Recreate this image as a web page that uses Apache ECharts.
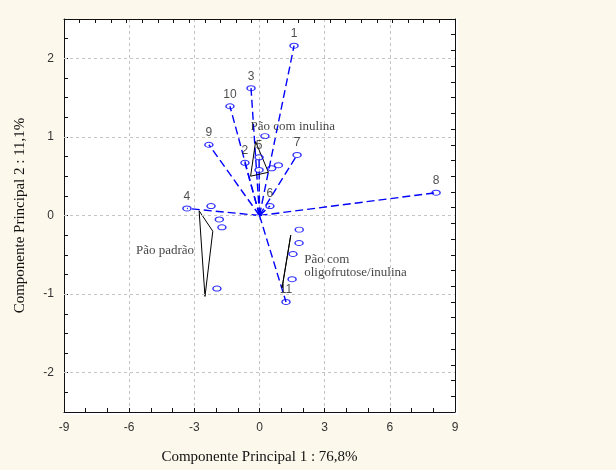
<!DOCTYPE html>
<html><head><meta charset="utf-8">
<script src="https://cdn.jsdelivr.net/npm/echarts@6/dist/echarts.min.js"></script>
<style>html,body{margin:0;padding:0;background:#fdf8ec}#c{width:616px;height:470px}</style>
</head><body><div id="c"></div><script>
// Variable loadings (vector end points) and their labels
const varLabels = ['1','2','3','4','5','6','7','8','9','10','11'];
const varX = [1.59, -0.67, -0.39, -3.34, -0.02, 0.48, 1.73, 8.13, -2.33, -1.36, 1.22];
const varY = [2.16, 0.67, 1.62, 0.09, 0.74, 0.12, 0.77, 0.29, 0.90, 1.39, -1.10];
// Sample scores
const sampleX = [0.25, -0.02, 0.56, 0.87, -2.23, -1.85, -1.73, -1.96, 1.83, 1.82, 1.54, 1.50];
const sampleY = [1.01, 0.58, 0.60, 0.64, 0.12, -0.05, -0.15, -0.93, -0.18, -0.35, -0.49, -0.81];
// Group outlines
const hullInulinaX = [-0.18, 0.41, -0.41];
const hullInulinaY = [0.94, 0.55, 0.50];
const hullPadraoX = [-2.78, -2.15, -2.51];
const hullPadraoY = [0.06, -0.20, -1.03];
const hullOligoX = [1.44, 1.53, 1.04];
const hullOligoY = [-0.25, -0.25, -0.92];
// Group names and where they are written
const groupNames = ['Pão com inulina', 'Pão padrão', 'Pão com\noligofrutose/inulina'];
const groupLabelX = [-0.41, -5.69, 2.06];
const groupLabelY = [1.135, -0.45, -0.64];
// Axes
const xTitle = 'Componente Principal 1 : 76,8%';
const yTitle = 'Componente Principal 2 : 11,1%';
const yGridValues = [-2, -1, 0, 1, 2];

const serif = '"Liberation Serif","Times New Roman",serif';
const sans = '"Liberation Sans",Arial,sans-serif';
const blue = '#0000ff';

function closed(xs, ys) {
  const d = xs.map((x, i) => [x, ys[i]]);
  d.push([xs[0], ys[0]]);
  return d;
}

const series = [];
// gridlines for y
series.push({
  type: 'line', data: [[0, 0]], symbol: 'none', z: 1, silent: true,
  lineStyle: { opacity: 0 },
  markLine: {
    silent: true, symbol: 'none', animation: false, label: { show: false },
    lineStyle: { color: '#c4c4c4', type: [3, 3], width: 1 },
    data: yGridValues.map(v => ({ yAxis: v }))
  }
});
// vectors
varX.forEach((x, i) => {
  series.push({
    type: 'line', data: [[0, 0], [x, varY[i]]], symbol: 'none', z: 3, silent: true,
    lineStyle: { color: blue, width: 1.4, type: [8, 4] }
  });
});
// hulls
[[hullInulinaX, hullInulinaY], [hullPadraoX, hullPadraoY], [hullOligoX, hullOligoY]].forEach(h => {
  series.push({
    type: 'line', data: closed(h[0], h[1]), symbol: 'none', z: 4, silent: true,
    lineStyle: { color: '#000', width: 1 }
  });
});
const markerStyle = { color: 'rgba(255,255,255,0)', borderColor: blue, borderWidth: 1.2 };
// samples
series.push({
  type: 'scatter', data: sampleX.map((x, i) => [x, sampleY[i]]), symbol: 'circle',
  symbolSize: [8, 5], itemStyle: markerStyle, z: 5, silent: true
});
// variables
series.push({
  type: 'scatter', z: 6, silent: true,
  data: varX.map((x, i) => ({ name: varLabels[i], value: [x, varY[i]] })),
  symbol: 'circle', symbolSize: [8, 5], itemStyle: markerStyle,
  label: { show: true, position: 'top', distance: 3, formatter: p => p.name,
           color: '#222', fontSize: 12, fontFamily: sans }
});
// group names
series.push({
  type: 'scatter', z: 7, silent: true, symbolSize: 0,
  data: groupNames.map((n, i) => ({ name: n, value: [groupLabelX[i], groupLabelY[i]] })),
  label: { show: true, position: [0, 0], align: 'left', verticalAlign: 'middle',
           formatter: p => p.name, color: '#111', fontSize: 13, lineHeight: 13,
           fontFamily: serif }
});

const axisLine = { show: true, onZero: false, lineStyle: { color: '#111', width: 1 } };
const tickStyle = { color: '#111', width: 1 };

const chart = echarts.init(document.getElementById('c'), null, { renderer: 'canvas' });
chart.setOption({
  animation: false,
  backgroundColor: '#fdf8ec',
  graphic: [{ type: 'rect', z: -10, shape: { x: 64, y: 19, width: 394, height: 396 },
              style: { fill: '#ffffff' }, silent: true }],
  grid: { left: 64, right: 161, top: 19, bottom: 58, containLabel: false },
  xAxis: [{
    type: 'value', position: 'bottom', min: -9, max: 9, interval: 3,
    axisLine: axisLine,
    axisTick: { show: true, inside: true, length: 4, lineStyle: tickStyle },
    minorTick: { show: true, splitNumber: 3, length: 4, lineStyle: tickStyle },
    axisLabel: { color: '#333', fontSize: 12, fontFamily: sans, margin: 10 },
    splitLine: { show: true, lineStyle: { color: '#c4c4c4', type: [3, 3], width: 1 } },
    name: xTitle, nameLocation: 'middle', nameGap: 38,
    nameTextStyle: { fontFamily: serif, fontSize: 15, color: '#111' }
  }, {
    type: 'value', position: 'top', min: -9, max: 9, interval: 0.72,
    axisLine: axisLine,
    axisTick: { show: true, inside: true, length: 4, lineStyle: tickStyle },
    axisLabel: { show: false }, splitLine: { show: false }
  }],
  yAxis: [{
    type: 'value', position: 'left', min: -2.5, max: 2.5, interval: 0.25,
    axisLine: axisLine,
    axisTick: { show: true, inside: true, length: 4, lineStyle: tickStyle },
    axisLabel: { color: '#333', fontSize: 12, fontFamily: sans, margin: 10,
                 formatter: v => (Math.abs(v - Math.round(v)) < 1e-6 ? String(Math.round(v)) : '') },
    splitLine: { show: false },
    name: yTitle, nameLocation: 'middle', nameGap: 36, nameRotate: 90,
    nameTextStyle: { fontFamily: serif, fontSize: 15, color: '#111' }
  }, {
    type: 'value', position: 'right', min: -2.5, max: 2.5, interval: 0.2,
    axisLine: axisLine,
    axisTick: { show: true, inside: true, length: 4, lineStyle: tickStyle },
    axisLabel: { show: false }, splitLine: { show: false }
  }],
  series: series
});
</script></body></html>
